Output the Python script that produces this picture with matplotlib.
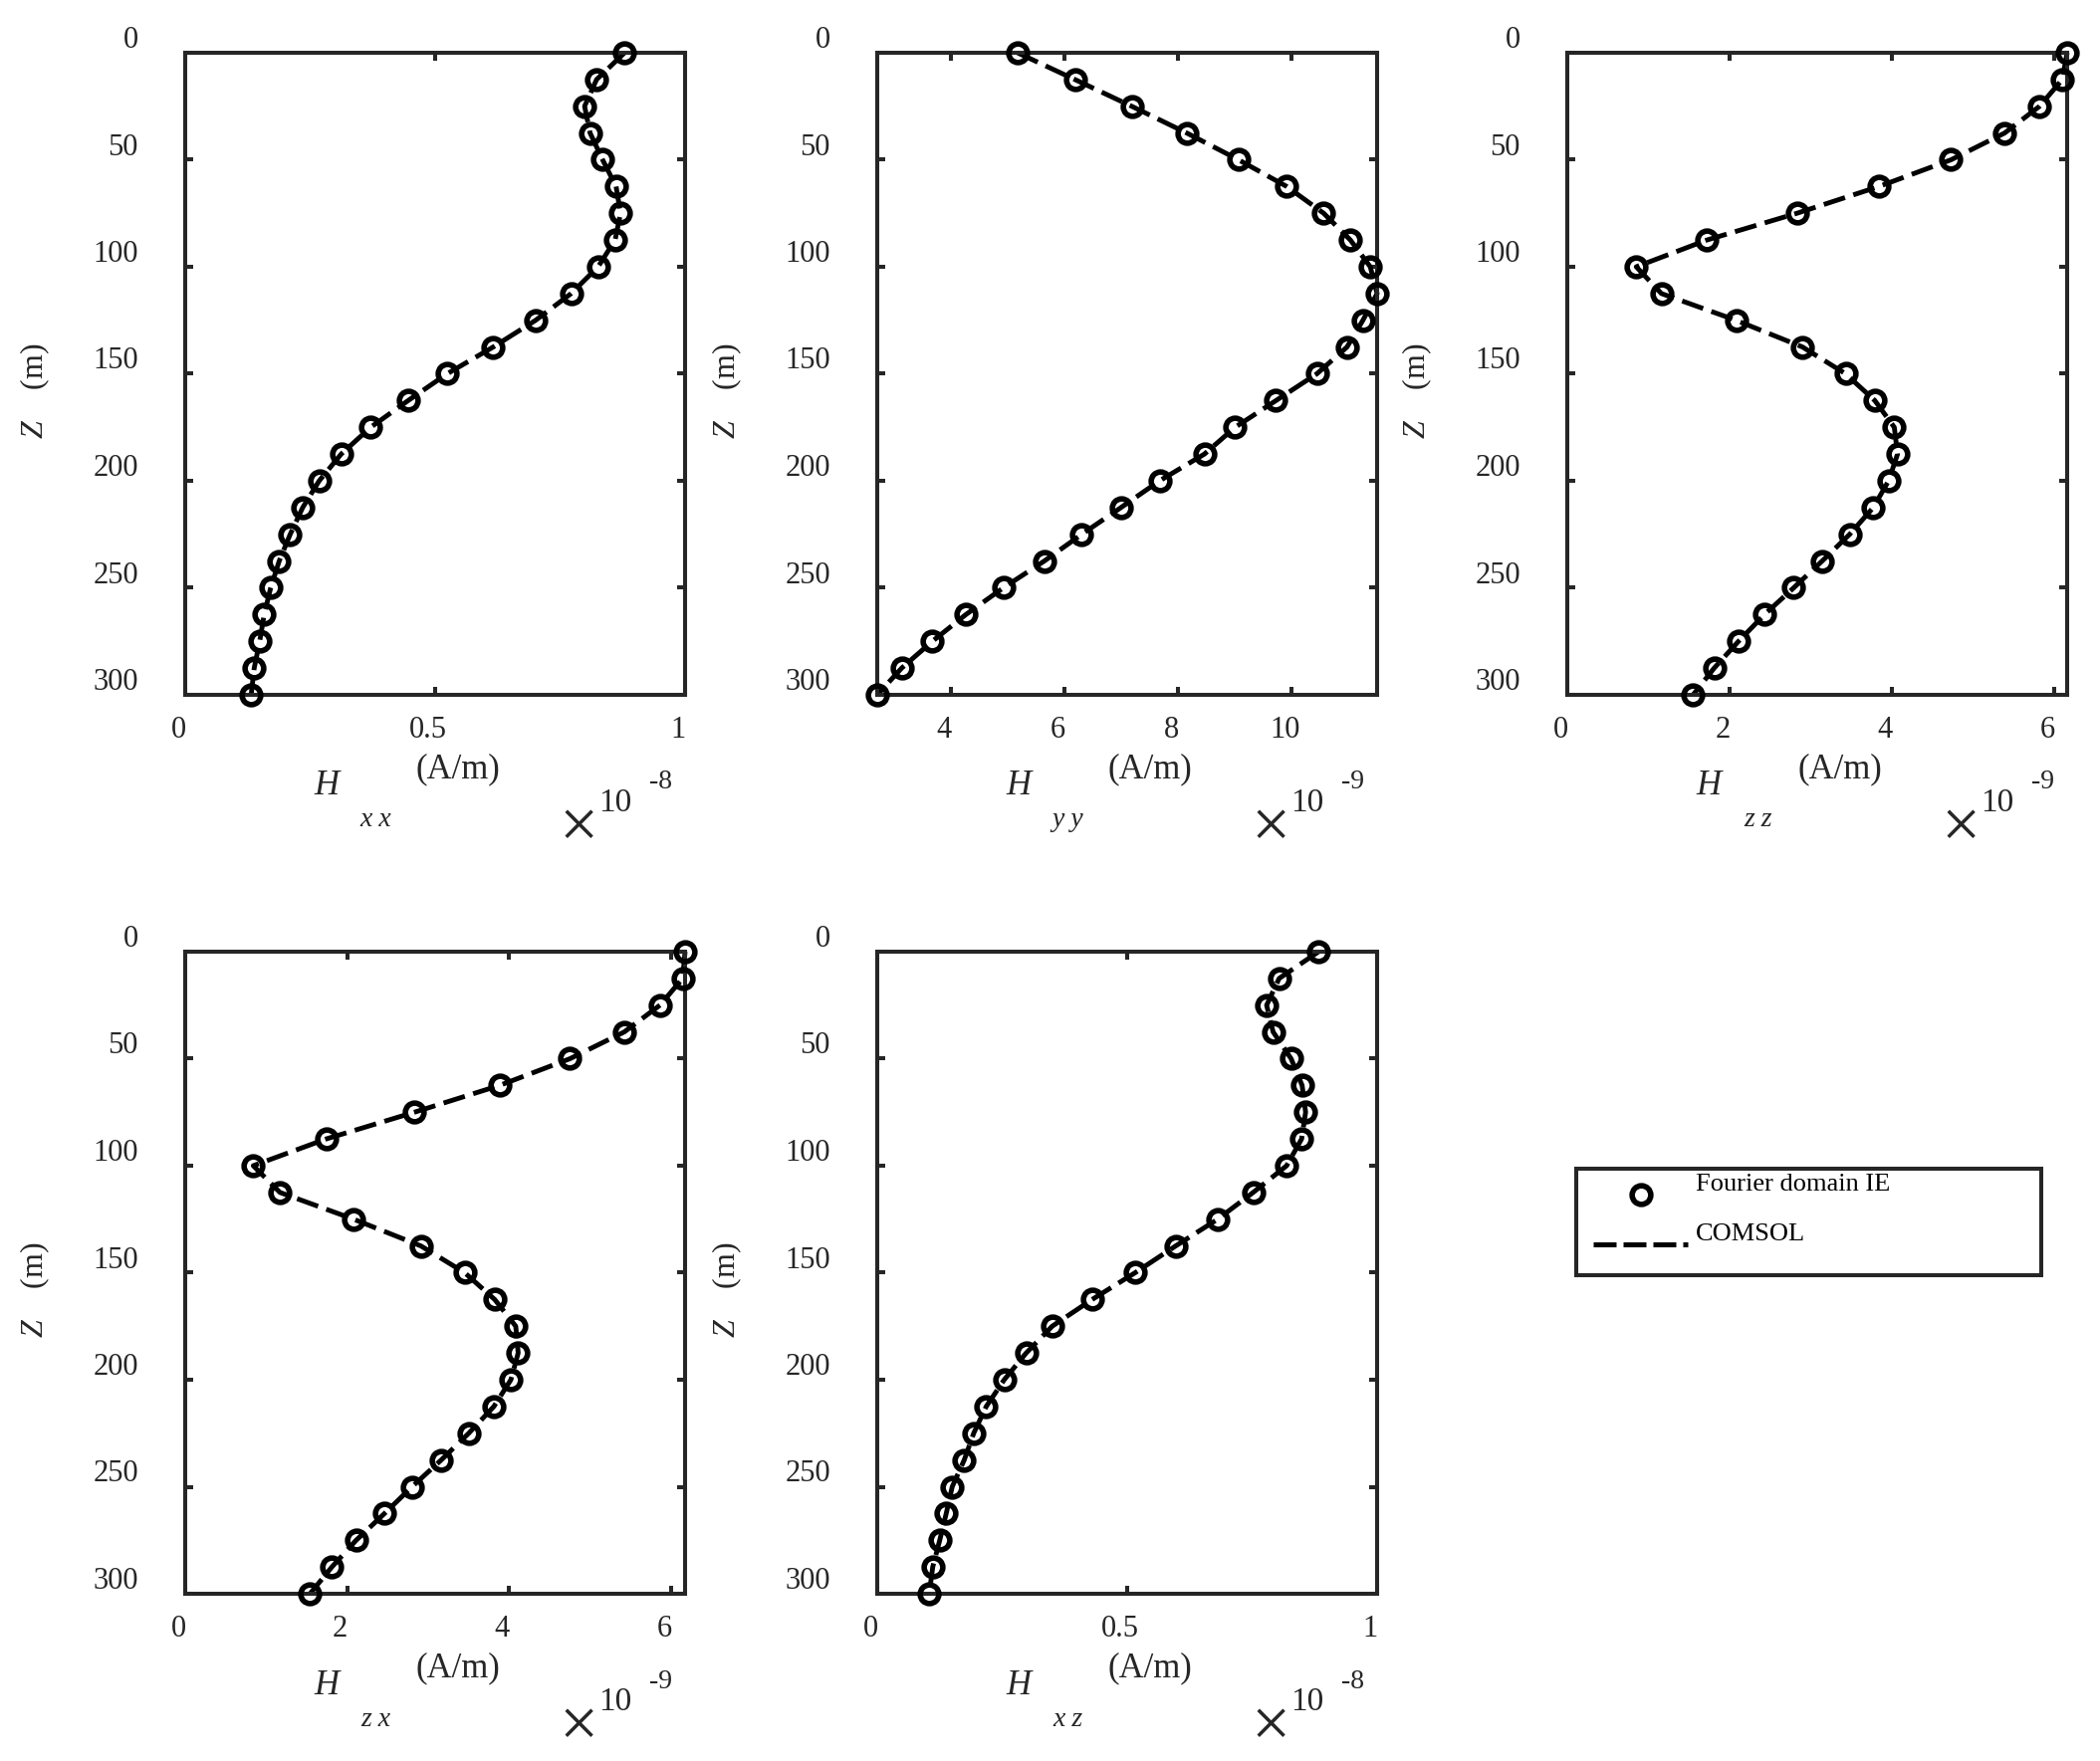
import matplotlib
matplotlib.use('Agg')
import matplotlib.pyplot as plt
from matplotlib.lines import Line2D
from matplotlib.transforms import ScaledTranslation, offset_copy

plt.rcParams['font.family'] = ['Liberation Serif', 'DejaVu Serif']
plt.rcParams['mathtext.fontset'] = 'custom'
plt.rcParams['mathtext.rm'] = 'Liberation Serif'
plt.rcParams['mathtext.it'] = 'Liberation Serif:italic'

# ---------------- data ----------------
z = [0, 12.5, 25, 37.5, 50, 62.5, 75, 87.5, 100, 112.5, 125, 137.5, 150,
     162.5, 175, 187.5, 200, 212.5, 225, 237.5, 250, 262.5, 275, 287.5, 300]

hxx = [0.879, 0.823, 0.799, 0.810, 0.835, 0.862, 0.871, 0.860, 0.826, 0.772,
       0.701, 0.616, 0.524, 0.446, 0.371, 0.312, 0.268, 0.235, 0.210, 0.188,
       0.171, 0.158, 0.149, 0.138, 0.132]
hyy = [5.17, 6.18, 7.18, 8.15, 9.06, 9.91, 10.56, 11.03, 11.38, 11.50,
       11.25, 10.97, 10.44, 9.72, 9.00, 8.46, 7.67, 6.99, 6.30, 5.64,
       4.92, 4.26, 3.67, 3.13, 2.70]
hzz = [6.16, 6.10, 5.82, 5.39, 4.73, 3.84, 2.83, 1.72, 0.85, 1.16,
       2.08, 2.90, 3.43, 3.79, 4.03, 4.07, 3.96, 3.77, 3.48, 3.14,
       2.79, 2.43, 2.11, 1.81, 1.55]
hzx = [6.17, 6.14, 5.86, 5.42, 4.75, 3.88, 2.83, 1.74, 0.84, 1.17,
       2.08, 2.91, 3.45, 3.82, 4.08, 4.11, 4.02, 3.81, 3.50, 3.16,
       2.80, 2.46, 2.11, 1.81, 1.54]
hxz = [0.883, 0.804, 0.779, 0.792, 0.828, 0.850, 0.857, 0.849, 0.819, 0.752,
       0.681, 0.597, 0.516, 0.430, 0.350, 0.298, 0.254, 0.218, 0.193, 0.174,
       0.150, 0.138, 0.125, 0.111, 0.104]

yticks = [50, 100, 150, 200, 250, 300, 0]
ytick_labels = ['50', '100', '150', '200', '250', '300', '0']
xticks_unit = [0, 0.5, 1]
xtick_labels_unit = ['0', '0.5', '1']
xticks_yy = [4, 6, 8, 10]
xtick_labels_yy = ['4', '6', '8', '10']
xticks_z = [0, 2, 4, 6]
xtick_labels_z = ['0', '2', '4', '6']

subscripts = ['x x', 'y y', 'z z', 'z x', 'x z']
exponents = ['-8', '-9', '-9', '-9', '-8']
legend_labels = ['Fourier domain IE', 'COMSOL']

# ---------------- layout ----------------
W, H = 2109, 1769
fig = plt.figure(figsize=(W / 100, H / 100), dpi=100)
TXT = '#262626'

AXW, AXH = 502, 645
rects_px = [(186, 53), (881, 53), (1574, 53), (186, 956), (881, 956)]

panels = [
    (hxx, xticks_unit, xtick_labels_unit, 'unit'),
    (hyy, xticks_yy, xtick_labels_yy, 'tight'),
    (hzz, xticks_z, xtick_labels_z, 'zero'),
    (hzx, xticks_z, xtick_labels_z, 'zero'),
    (hxz, xticks_unit, xtick_labels_unit, 'unit'),
]

LW_AX = 2.9
MS, MEW = 13.5, 4.0
for i, ((left, top), (vals, xt, xtl, mode)) in enumerate(zip(rects_px, panels)):
    ax = fig.add_axes([left / W, 1 - (top + AXH) / H, AXW / W, AXH / H])
    ax.plot(vals, z, color='black', lw=3.5, ls=(0, (4.6, 1.8)), clip_on=False,
            zorder=2)
    ax.plot(vals, z, ls='none', marker='o', ms=MS, mew=MEW, mfc='none',
            mec='black', clip_on=False, zorder=3)
    ax.set_ylim(300, 0)
    if mode == 'unit':
        ax.set_xlim(0, 1)
    elif mode == 'tight':
        ax.set_xlim(min(vals), max(vals))
    else:
        ax.set_xlim(0, max(vals))
    for s in ax.spines.values():
        s.set_linewidth(LW_AX)
        s.set_color(TXT)
    ax.tick_params(direction='in', length=6, width=2.9, colors=TXT,
                   labelsize=22, top=True, right=True, labelcolor=TXT)
    ax.tick_params(axis='y', pad=34)
    ax.tick_params(axis='x', pad=15)
    ax.set_yticks(yticks)
    ax.set_yticklabels(ytick_labels)
    ax.set_xticks(xt)
    ax.set_xticklabels(xtl)
    for lab in ax.get_yticklabels():
        lab.set_transform(lab.get_transform() +
                          ScaledTranslation(0, 16 / 100, fig.dpi_scale_trans))
    for lab in ax.get_xticklabels():
        lab.set_transform(lab.get_transform() +
                          ScaledTranslation(-7 / 100, 0, fig.dpi_scale_trans))

    ax.set_ylabel(r'$\mathit{Z}$    (m)', fontsize=23, color=TXT)
    ax.yaxis.set_label_coords(-0.267, 0.473)

    def btxt(xf, dy, s, **kw):
        tr = offset_copy(ax.transAxes, fig=fig, x=0, y=-dy, units='dots')
        ax.text(xf, 0, s, transform=tr, ha='center', va='center',
                color=TXT, clip_on=False, **kw)

    btxt(0.545, 75, '(A/m)', fontsize=25)
    btxt(0.283, 92, 'H', fontsize=25, style='italic')
    btxt(0.381, 126, subscripts[i], fontsize=20, style='italic')
    btxt(0.788, 136, '\u00d7', fontsize=50)
    btxt(0.860, 109, '10', fontsize=24)
    btxt(0.952, 88, exponents[i], fontsize=20)

# ---------------- legend ----------------
h_ie = Line2D([], [], ls='none', marker='o', ms=MS, mew=MEW, mfc='none',
              mec='black')
h_cm = Line2D([], [], color='black', lw=3.6, ls=(0, (4.6, 1.4)))
x0, x1 = 1583 / W, 2050 / W
y0, y1 = 1 - 1285 / H, 1 - 1170 / H
leg = fig.legend([h_ie, h_cm], legend_labels, loc='center',
                 bbox_to_anchor=(x0, y0, x1 - x0, y1 - y0), mode='expand',
                 fontsize=19, frameon=True, fancybox=False, framealpha=1,
                 edgecolor=TXT, borderpad=0.65, labelspacing=1.0,
                 handlelength=3.6, handletextpad=0.3, borderaxespad=0,
                 numpoints=1)
leg.get_frame().set_linewidth(2.9)
for t in leg.get_texts():
    t.set_color('black')
    t.set_y(13)

fig.savefig('out.png', dpi=100, facecolor='white')
